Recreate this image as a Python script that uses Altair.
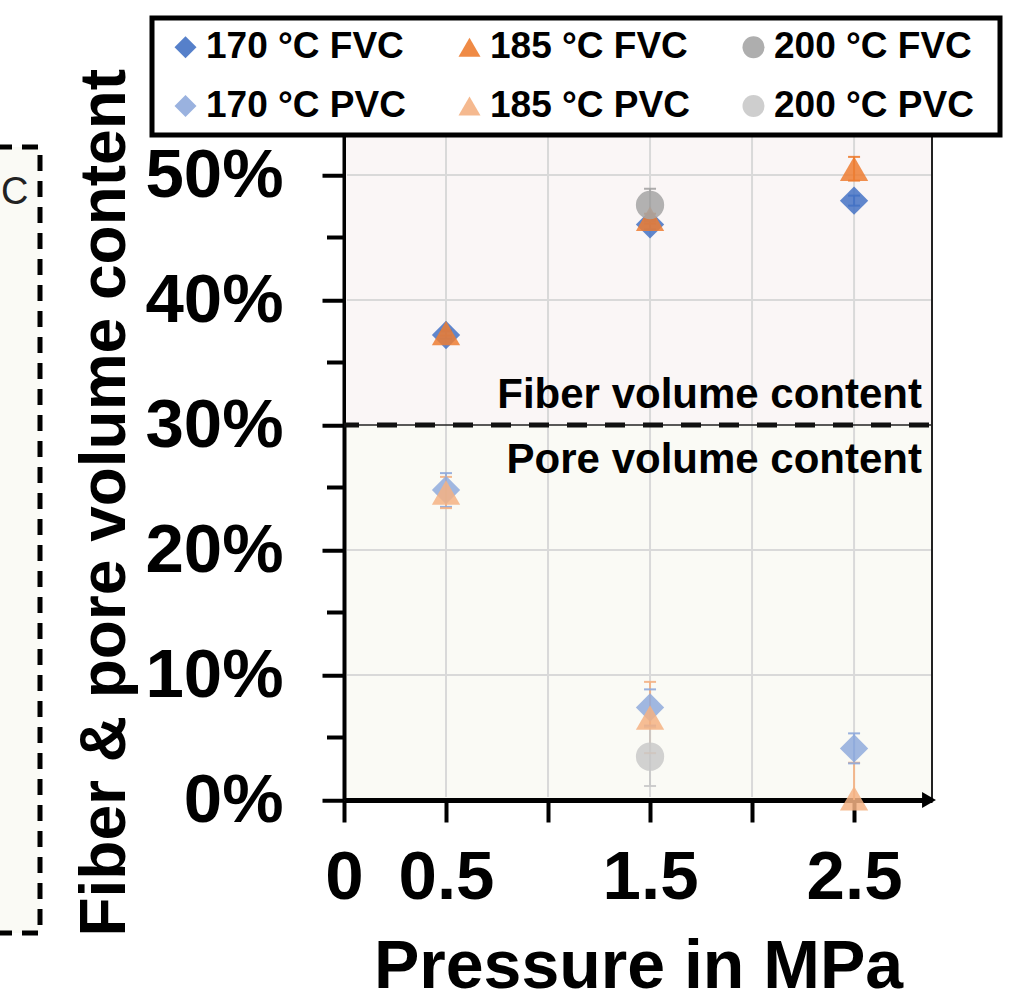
import altair as alt
import pandas as pd

# ---------------- data ----------------
pressure_mpa = [0.5, 1.5, 2.5]
series = ["170 °C FVC", "185 °C FVC", "200 °C FVC",
          "170 °C PVC", "185 °C PVC", "200 °C PVC"]
colors = ["#4472C4", "#ED7D31", "#A5A5A5", "#8FAADC", "#F4B183", "#C9C9C9"]
shapes = ["diamond", "triangle-up", "circle", "diamond", "triangle-up", "circle"]

fvc_170 = [37.2, 46.05, 47.95]
fvc_185 = [37.35, 46.5, 50.5]
fvc_200 = [None, 47.6, None]
pvc_170 = [24.8, 7.4, 4.13]
pvc_185 = [24.6, 6.6, 0.13]
pvc_200 = [None, 3.47, None]

fvc_170_err = [0.3, 0.4, 0.4]
fvc_185_err = [0.2, 0.4, 0.95]
fvc_200_err = [None, 1.3, None]
pvc_170_err = [1.35, 1.45, 1.2]
pvc_185_err = [1.25, 2.85, 2.85]
pvc_200_err = [None, 2.35, None]

x_ticks = [0, 0.5, 1, 1.5, 2, 2.5]
x_grid = [0.5, 1, 1.5, 2, 2.5]
y_major = [0, 10, 20, 30, 40, 50]
y_minor = [5, 15, 25, 35, 45]
y_grid = [10, 20, 40, 50]
split_pct = 30
band_labels = ["Fiber volume content", "Pore volume content"]
x_title = "Pressure in MPa"
y_title = "Fiber & pore volume content"

# ---------------- layout ----------------
W = 588
H = 668.75
X_MAX = 2.882
Y_MAX = 53.5
FONT = "Liberation Sans"

all_vals = [fvc_170, fvc_185, fvc_200, pvc_170, pvc_185, pvc_200]
all_errs = [fvc_170_err, fvc_185_err, fvc_200_err, pvc_170_err, pvc_185_err, pvc_200_err]

rows = []
for i, name in enumerate(series):
    for p, v, e in zip(pressure_mpa, all_vals[i], all_errs[i]):
        if v is None:
            continue
        rows.append(dict(series=name, mpa=p, pct=v, err=e, col=colors[i]))
df = pd.DataFrame(rows)
df["lo"] = (df["pct"] - df["err"]).clip(lower=0)
df["hi"] = df["pct"] + df["err"]
caps = pd.concat([
    df.assign(cap=df["hi"]),
    df[df["pct"] - df["err"] >= 0].assign(cap=df["lo"]),
])

# legend is filled column by column: reorder so rows read FVC / PVC
leg_order = [0, 3, 1, 4, 2, 5]
leg_domain = [series[i] for i in leg_order]
leg_colors = [colors[i] for i in leg_order]
leg_shapes = [shapes[i] for i in leg_order]

XS = alt.Scale(domain=[0, X_MAX], nice=False, zero=False)
YS = alt.Scale(domain=[0, Y_MAX], nice=False, zero=False)

XAX = alt.Axis(
    values=x_ticks, format=".1~f",
    labelExpr="datum.value == 1 || datum.value == 2 ? '' : datum.label",
    grid=False, tickSize=22, tickWidth=4, tickColor="black",
    domainColor="black", domainWidth=5,
    labelFont=FONT, labelFontSize=69, labelFontWeight="bold", labelColor="black",
    labelPadding=21, labelFlush=False, labelOverlap=False,
    title=x_title, titleFont=FONT, titleFontSize=68, titleFontWeight="bold",
    titleColor="black", titleY=187, titleBaseline="alphabetic",
)
YAX = alt.Axis(
    values=y_major, labelExpr="datum.value + '%'",
    grid=False, tickSize=22, tickWidth=4, tickColor="black",
    domainColor="black", domainWidth=4,
    labelFont=FONT, labelFontSize=69, labelFontWeight="bold", labelColor="black",
    labelPadding=39, labelOverlap=False,
    title=y_title, titleFont=FONT, titleFontSize=64, titleFontWeight="bold",
    titleColor="black", titleAngle=270, titleX=-220, titleY=371,
    titleAlign="center", titleBaseline="alphabetic",
)

one = pd.DataFrame({"d": [0]})

# pink upper band (lower band = view fill)
bands = pd.DataFrame({"lo": [split_pct], "hi": [Y_MAX], "fill": ["#FAF6F6"]})
band_layer = alt.Chart(bands).mark_rect().encode(
    y=alt.Y("lo:Q", scale=YS, axis=YAX),
    y2="hi:Q",
    x=alt.value(2), x2=alt.value(W),
    color=alt.Color("fill:N", scale=None),
)

vgrid = alt.Chart(pd.DataFrame({"mpa": x_grid})).mark_rule(
    color="#D9D9D9", strokeWidth=2).encode(
    x=alt.X("mpa:Q", scale=XS, axis=XAX),
    y=alt.value(0), y2=alt.value(H - 3),
)
hgrid = alt.Chart(pd.DataFrame({"pct": y_grid})).mark_rule(
    color="#D9D9D9", strokeWidth=2).encode(
    y=alt.Y("pct:Q", scale=YS, axis=YAX),
    x=alt.value(3), x2=alt.value(W),
)

minor_ticks = alt.Chart(pd.DataFrame({"pct": y_minor})).mark_rule(
    color="black", strokeWidth=4).encode(
    y=alt.Y("pct:Q", scale=YS, axis=YAX),
    x=alt.value(-17), x2=alt.value(0),
)

split_solid = alt.Chart(one).mark_rule(color="#222", strokeWidth=1.5).encode(
    y=alt.datum(split_pct, scale=YS, axis=YAX))
split_dash = alt.Chart(one).mark_rule(
    color="#111", strokeWidth=5, strokeDash=[20, 18], strokeDashOffset=-3).encode(
    y=alt.datum(split_pct, scale=YS, axis=YAX))

lab_fvc = alt.Chart(one).mark_text(
    align="right", baseline="alphabetic", fontSize=42, fontWeight="bold",
    color="black", font=FONT, dy=-17).encode(
    x=alt.value(578), y=alt.datum(split_pct, scale=YS, axis=YAX),
    text=alt.value(band_labels[0]))
lab_pvc = alt.Chart(one).mark_text(
    align="right", baseline="alphabetic", fontSize=42, fontWeight="bold",
    color="black", font=FONT, dy=48).encode(
    x=alt.value(578), y=alt.datum(split_pct, scale=YS, axis=YAX),
    text=alt.value(band_labels[1]))

right_border = alt.Chart(one).mark_rule(color="#222", strokeWidth=2).encode(
    x=alt.value(W), y=alt.value(0), y2=alt.value(H))

err_rules = alt.Chart(df).mark_rule(strokeWidth=2, opacity=0.9).encode(
    x=alt.X("mpa:Q", scale=XS, axis=XAX),
    y=alt.Y("lo:Q", scale=YS, axis=YAX),
    y2="hi:Q",
    color=alt.Color("col:N", scale=None),
)
err_caps = alt.Chart(caps).mark_point(
    shape="stroke", size=144, strokeWidth=2, filled=False, opacity=0.9).encode(
    x=alt.X("mpa:Q", scale=XS, axis=XAX),
    y=alt.Y("cap:Q", scale=YS, axis=YAX),
    color=alt.Color("col:N", scale=None),
)

leg = alt.Legend(
    orient="none", legendX=-177, legendY=-102.75, columns=3,
    labelFont=FONT, labelFontSize=37, labelFontWeight="bold", labelColor="black",
    symbolSize=484, symbolStrokeWidth=0, symbolOpacity=1,
    columnPadding=45, rowPadding=21, labelOffset=2, padding=0, labelLimit=400,
)

points = alt.Chart(df).mark_point(filled=True, size=800, opacity=0.85, strokeWidth=0).encode(
    x=alt.X("mpa:Q", scale=XS, axis=XAX),
    y=alt.Y("pct:Q", scale=YS, axis=YAX),
    color=alt.Color("series:N", scale=alt.Scale(domain=leg_domain, range=leg_colors),
                    legend=leg, title=None),
    shape=alt.Shape("series:N", scale=alt.Scale(domain=leg_domain, range=leg_shapes),
                    legend=leg, title=None),
)

arrow = alt.Chart(one).mark_point(
    shape="triangle-right", filled=True, size=256, color="black", opacity=1).encode(
    x=alt.value(W - 3), y=alt.value(H))

# fragment of the neighbouring panel at the left edge
side_box = alt.Chart(one).mark_rect(
    fill="#FAFAF5", stroke="black", strokeWidth=5, strokeDash=[16, 10]).encode(
    x=alt.value(-348), x2=alt.value(-304),
    y=alt.value(15.75), y2=alt.value(801.75))
side_text = alt.Chart(one).mark_text(
    align="left", baseline="alphabetic", fontSize=38, color="#222", font=FONT).encode(
    x=alt.value(-343), y=alt.value(72.5), text=alt.value("C"))

legend_box = alt.Chart(one).mark_rect(
    fill="white", stroke="black", strokeWidth=5).encode(
    x=alt.value(-192), x2=alt.value(656),
    y=alt.value(-113.25), y2=alt.value(3.75))

chart = alt.layer(
    band_layer, vgrid, hgrid, minor_ticks, split_solid, split_dash,
    lab_fvc, lab_pvc, right_border, err_rules, err_caps, points, arrow,
    side_box, side_text, legend_box,
).properties(
    width=W, height=H,
    padding={"left": 344, "top": 131.25, "right": 92, "bottom": 200},
    autosize=alt.AutoSizeParams(type="none"),
    background="white",
).configure(font=FONT).configure_view(fill="#FAFAF5", strokeWidth=0)

chart.save("out.html", embed_options={"renderer": "svg", "actions": False})
